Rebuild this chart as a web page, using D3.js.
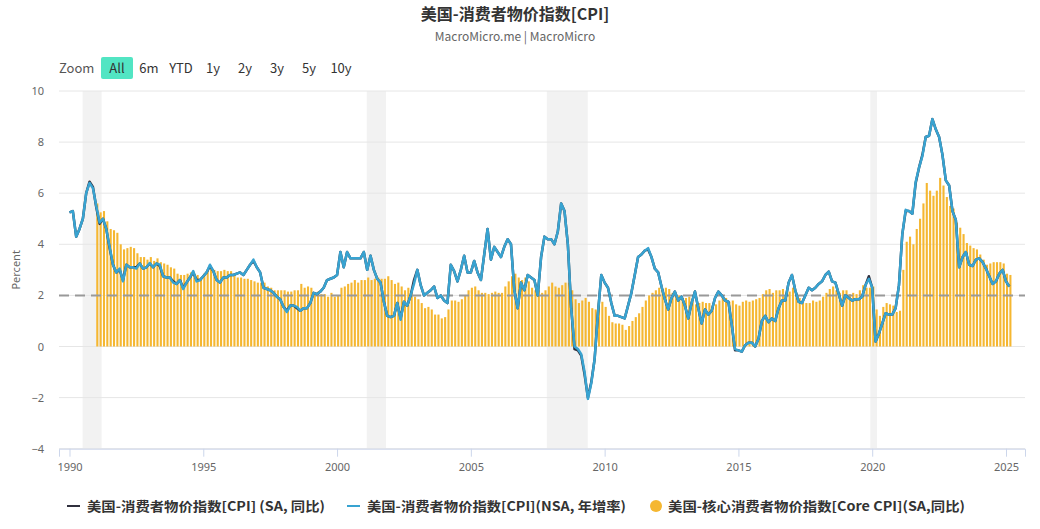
<!DOCTYPE html>
<html><head><meta charset="utf-8">
<script src="https://cdn.jsdelivr.net/npm/d3@7"></script>
<style>
body{margin:0;background:#fff;}
svg{display:block;font-family:"Noto Sans CJK SC","Noto Sans",sans-serif;}
</style></head><body>
<svg id="chart" width="1040" height="529"></svg>
<script>
const title = "美国-消费者物价指数[CPI]";
const subtitle = "MacroMicro.me | MacroMicro";
const zoomLabel = "Zoom";
const zoomButtons = ["All","6m","YTD","1y","2y","3y","5y","10y"];
const yAxisTitle = "Percent";
const xTicks = [1990,1995,2000,2005,2010,2015,2020,2025];
const yTicks = [-4,-2,0,2,4,6,8,10];
const recessions = [[1990.49,1991.20],[2001.11,2001.83],[2007.84,2009.37],[2019.93,2020.18]];
const targetLevel = 2;
const lineStart = 1990, barStart = 1991, step = 1/8;
const seriesNames = ["美国-消费者物价指数[CPI] (SA, 同比)","美国-消费者物价指数[CPI](NSA, 年增率)","美国-核心消费者物价指数[Core CPI](SA,同比)"];

const cpiNSA = [
5.25,5.3,4.3,4.6,5.0,6.0,6.4,6.2,
5.5,4.85,5.0,4.6,3.9,3.2,2.9,3.05,
2.55,3.2,3.1,3.1,3.05,3.25,3.05,3.1,
3.27,3.1,3.25,3.2,2.75,2.7,2.7,2.5,
2.45,2.6,2.25,2.5,2.7,2.95,2.55,2.6,
2.75,2.9,3.2,2.95,2.6,2.5,2.7,2.7,
2.8,2.8,2.85,2.9,2.8,3.0,3.2,3.4,
3.1,2.9,2.3,2.25,2.2,2.1,1.95,1.85,
1.55,1.35,1.6,1.6,1.55,1.4,1.5,1.5,
1.7,2.1,2.05,2.15,2.3,2.6,2.65,2.7,
2.8,3.7,3.1,3.7,3.45,3.45,3.45,3.45,
3.7,3.0,3.55,3.0,2.65,2.5,1.75,1.2,
1.15,1.2,1.7,1.05,1.75,1.6,2.0,2.45,
3.0,2.4,2.0,2.1,2.2,2.35,1.9,2.0,
1.8,1.7,3.2,2.95,2.55,3.0,3.55,2.9,
2.9,3.35,2.9,2.6,3.6,4.6,3.4,3.9,
3.7,3.5,3.9,4.2,4.0,2.2,1.5,2.5,
2.2,2.8,2.7,2.6,2.0,3.5,4.3,4.2,
4.2,4.0,4.5,5.6,5.3,4.0,1.5,0.0,
-0.1,-0.3,-1.0,-2.05,-1.45,-0.5,1.3,2.8,
2.5,2.3,1.7,1.2,1.2,1.15,1.1,1.6,
2.1,2.8,3.5,3.6,3.75,3.85,3.5,3.05,
2.9,2.35,1.85,1.45,1.9,2.15,1.8,1.95,
1.6,1.1,1.7,2.15,1.5,0.9,1.45,1.25,
1.4,1.9,2.15,2.0,1.8,1.75,0.85,-0.1,
-0.15,-0.2,0.05,0.15,0.15,0.0,0.3,1.0,
1.2,0.95,1.1,1.0,1.5,1.8,1.8,2.5,
2.8,2.2,1.75,1.7,2.0,2.3,2.2,2.3,
2.45,2.55,2.8,2.93,2.55,2.5,2.05,1.6,
2.0,1.9,1.8,1.85,1.85,1.95,2.4,2.65,
2.3,0.2,0.5,0.9,1.3,1.25,1.25,1.5,
2.4,4.4,5.35,5.3,5.2,6.45,7.0,7.45,
8.2,8.25,8.9,8.5,8.2,7.5,6.5,6.3,
5.3,4.95,3.1,3.5,3.7,3.2,3.15,3.4,
3.45,3.3,3.05,2.75,2.45,2.55,2.85,3.0,
2.55,2.35
];

const cpiSA = [
5.25,5.3,4.3,4.6,5.0,6.0,6.45,6.25,
5.45,4.8,5.0,4.6,3.85,3.2,2.9,3.0,
2.6,3.2,3.1,3.1,3.1,3.25,3.05,3.1,
3.25,3.1,3.25,3.15,2.75,2.7,2.7,2.55,
2.45,2.6,2.3,2.5,2.7,2.9,2.6,2.6,
2.75,2.9,3.15,2.95,2.6,2.5,2.7,2.7,
2.8,2.8,2.85,2.9,2.8,3.0,3.2,3.35,
3.1,2.9,2.3,2.25,2.2,2.1,1.95,1.85,
1.55,1.4,1.6,1.6,1.5,1.4,1.5,1.5,
1.7,2.1,2.05,2.15,2.3,2.6,2.65,2.7,
2.8,3.7,3.1,3.7,3.45,3.45,3.45,3.45,
3.7,3.0,3.55,3.0,2.65,2.5,1.75,1.2,
1.15,1.2,1.7,1.1,1.75,1.6,2.0,2.6,
3.0,2.4,2.0,2.1,2.2,2.35,1.9,2.0,
1.8,1.7,3.2,2.95,2.55,3.0,3.55,2.9,
2.9,3.35,2.9,2.6,3.6,4.6,3.4,3.9,
3.7,3.5,3.9,4.2,4.0,2.2,1.5,2.5,
2.2,2.8,2.7,2.6,2.0,3.5,4.3,4.2,
4.2,4.0,4.5,5.6,5.3,4.0,1.5,-0.1,
-0.15,-0.35,-1.1,-2.0,-1.4,-0.5,1.3,2.8,
2.5,2.3,1.7,1.2,1.2,1.15,1.1,1.6,
2.1,2.8,3.5,3.6,3.75,3.8,3.5,3.05,
2.9,2.35,1.85,1.45,1.9,2.15,1.8,1.95,
1.6,1.1,1.7,2.15,1.5,0.9,1.45,1.25,
1.4,1.9,2.15,2.0,1.8,1.75,0.85,-0.15,
-0.15,-0.2,0.05,0.15,0.15,0.0,0.3,1.0,
1.2,0.95,1.1,1.0,1.5,1.8,1.8,2.5,
2.8,2.2,1.75,1.7,2.0,2.3,2.2,2.3,
2.45,2.55,2.8,2.93,2.55,2.5,2.05,1.6,
2.0,1.9,1.8,1.85,1.85,1.95,2.4,2.75,
2.3,0.2,0.5,0.9,1.3,1.25,1.25,1.5,
2.4,4.4,5.3,5.3,5.2,6.4,7.0,7.5,
8.2,8.25,8.9,8.5,8.2,7.5,6.5,6.3,
5.3,4.95,3.1,3.5,3.7,3.2,3.15,3.4,
3.45,3.3,3.05,2.75,2.45,2.55,2.85,3.0,
2.55,2.35
];

const coreCPI = [
5.6,5.25,5.3,4.9,4.6,4.55,4.45,4.0,
3.8,3.85,3.9,3.85,3.65,3.5,3.5,3.4,
3.5,3.35,3.45,3.3,3.25,3.2,3.1,3.05,
2.85,2.8,2.8,2.85,2.9,2.85,2.8,2.7,
2.85,3.0,3.05,3.0,2.95,2.95,3.0,2.95,
2.95,2.8,2.7,2.7,2.65,2.65,2.6,2.55,
2.5,2.5,2.5,2.35,2.3,2.2,2.2,2.2,
2.2,2.15,2.15,2.2,2.2,2.45,2.3,2.35,
2.3,2.1,2.15,2.05,2.05,1.95,2.1,1.95,
2.0,2.3,2.35,2.45,2.5,2.6,2.5,2.6,
2.6,2.7,2.6,2.65,2.7,2.65,2.65,2.75,
2.6,2.45,2.5,2.35,2.2,2.3,2.15,1.95,
1.85,1.7,1.5,1.55,1.45,1.25,1.25,1.1,
1.15,1.45,1.8,1.8,1.75,1.85,2.0,2.2,
2.3,2.35,2.2,2.1,2.1,2.05,2.1,2.15,
2.1,2.1,2.35,2.55,2.75,2.85,2.7,2.6,
2.7,2.55,2.3,2.2,2.2,2.1,2.2,2.35,
2.5,2.35,2.3,2.4,2.5,2.5,2.2,1.85,
1.7,1.8,1.9,1.75,1.5,1.45,1.7,1.75,
1.55,1.2,0.95,0.9,0.9,0.85,0.65,0.8,
1.0,1.15,1.3,1.55,1.8,2.0,2.1,2.2,
2.3,2.25,2.3,2.25,2.1,1.95,2.0,1.9,
1.9,1.95,1.75,1.65,1.7,1.75,1.7,1.7,
1.6,1.65,1.8,1.95,1.9,1.75,1.8,1.65,
1.6,1.75,1.8,1.75,1.8,1.85,1.9,2.05,
2.2,2.25,2.1,2.2,2.2,2.25,2.1,2.15,
2.3,2.1,1.9,1.7,1.7,1.7,1.8,1.75,
1.8,1.95,2.1,2.25,2.35,2.2,2.1,2.2,
2.2,2.05,2.1,2.05,2.2,2.4,2.3,2.3,
2.35,1.45,1.2,1.55,1.7,1.65,1.6,1.35,
1.4,3.0,4.1,4.3,4.0,4.6,5.0,5.6,
6.4,6.1,5.9,6.1,6.6,6.3,5.85,5.5,
5.4,4.85,4.65,4.4,4.05,3.95,3.85,3.8,
3.6,3.4,3.2,3.25,3.3,3.3,3.3,3.25,
2.85,2.8
];

const colors = {sa:"#30303e", nsa:"#38a3d1", core:"#f5b731", band:"#f2f2f2", grid:"#e6e6e6", dash:"#999999"};

const svg = d3.select("#chart");
const plotLeft = 59, plotRight = 1025, plotTop = 91, plotBottom = 448.7;
const x = d3.scaleLinear().domain([1989.608, 2025.71]).range([plotLeft, plotRight]);
const y = d3.scaleLinear().domain([-4, 10]).range([plotBottom, plotTop]);

// title
svg.append("text").attr("x", 515).attr("y", 20).attr("text-anchor","middle")
  .attr("font-size", 16).attr("font-weight","bold").attr("fill","#333").text(title);
svg.append("text").attr("x", 515).attr("y", 41).attr("text-anchor","middle")
  .attr("font-size", 12).attr("fill","#666").text(subtitle);

// zoom buttons
svg.append("text").attr("x", 59).attr("y", 73).attr("font-size", 13).attr("fill","#555").text(zoomLabel);
const btn = svg.append("g");
zoomButtons.forEach((b,i)=>{
  const cx = 117 + i*32;
  if(i===0){
    btn.append("rect").attr("x", cx-16).attr("y", 57).attr("width", 32).attr("height", 22)
      .attr("rx", 2).attr("fill", "#52e5c3");
  }
  btn.append("text").attr("x", cx).attr("y", 73).attr("text-anchor","middle")
    .attr("font-size", 13).attr("fill","#333").text(b);
});

// recession bands
svg.append("g").selectAll("rect").data(recessions).join("rect")
  .attr("x", d=>x(d[0])).attr("width", d=>x(d[1])-x(d[0]))
  .attr("y", plotTop).attr("height", plotBottom-plotTop).attr("fill", colors.band);

// grid
svg.append("g").selectAll("line").data(yTicks).join("line")
  .attr("x1", plotLeft).attr("x2", plotRight).attr("y1", d=>y(d)).attr("y2", d=>y(d))
  .attr("stroke", colors.grid).attr("stroke-width", 1);

// y axis
const yAxis = svg.append("g").attr("transform", `translate(${plotLeft},0)`)
  .call(d3.axisLeft(y).tickValues(yTicks).tickSize(0).tickPadding(15).tickFormat(d3.format("d")));
yAxis.select(".domain").remove();
yAxis.selectAll("text").attr("font-size", 11).attr("fill", "#666").attr("font-family","'Noto Sans',sans-serif");

svg.append("text").attr("transform", `translate(20,${(plotTop+plotBottom)/2}) rotate(-90)`)
  .attr("text-anchor","middle").attr("font-size", 11).attr("fill","#666")
  .attr("font-family","'Noto Sans',sans-serif").text(yAxisTitle);

// x axis
const xAxis = svg.append("g").attr("transform", `translate(0,${plotBottom})`)
  .call(d3.axisBottom(x).tickValues(xTicks).tickSize(8).tickPadding(7).tickFormat(d3.format("d")));
xAxis.select(".domain").attr("stroke", "#ccd6eb");
xAxis.selectAll(".tick line").attr("stroke", "#ccd6eb");
xAxis.selectAll("text").attr("font-size", 11).attr("fill", "#666").attr("font-family","'Noto Sans',sans-serif");

// bars
svg.append("g").selectAll("rect").data(coreCPI).join("rect")
  .attr("x", (d,i)=>x(barStart + i*step))
  .attr("width", 2.1)
  .attr("y", d=>y(Math.max(0,d)))
  .attr("height", d=>Math.abs(y(d)-y(0)))
  .attr("fill", colors.core);

// target dashed line
svg.append("line").attr("x1", plotLeft).attr("x2", plotRight)
  .attr("y1", y(targetLevel)).attr("y2", y(targetLevel))
  .attr("stroke", colors.dash).attr("stroke-width", 2).attr("stroke-dasharray","10,6");

// lines
const line = d3.line().x((d,i)=>x(lineStart + i*step)).y(d=>y(d));
svg.append("path").datum(cpiSA).attr("d", line).attr("fill","none")
  .attr("stroke", colors.sa).attr("stroke-width", 2.5).attr("stroke-linejoin","round");
svg.append("path").datum(cpiNSA).attr("d", line).attr("fill","none")
  .attr("stroke", colors.nsa).attr("stroke-width", 2.5).attr("stroke-linejoin","round");

// legend
const lg = svg.append("g").attr("font-size", 13).attr("font-weight","bold").attr("fill","#333");
const legendItems = [
  {sym:"line", color:colors.sa, sx:67, tx:87, w:238},
  {sym:"line", color:colors.nsa, sx:347, tx:367, w:259},
  {sym:"circle", color:colors.core, sx:656, tx:668, w:297}
];
legendItems.forEach((it,i)=>{
  if(it.sym==="line"){
    lg.append("line").attr("x1", it.sx).attr("x2", it.sx+13).attr("y1", 506).attr("y2", 506)
      .attr("stroke", it.color).attr("stroke-width", 2);
  } else {
    lg.append("circle").attr("cx", it.sx).attr("cy", 506).attr("r", 6).attr("fill", it.color);
  }
  lg.append("text").attr("x", it.tx).attr("y", 511)
    .attr("textLength", it.w).attr("lengthAdjust","spacingAndGlyphs").text(seriesNames[i]);
});
</script>
</body></html>
